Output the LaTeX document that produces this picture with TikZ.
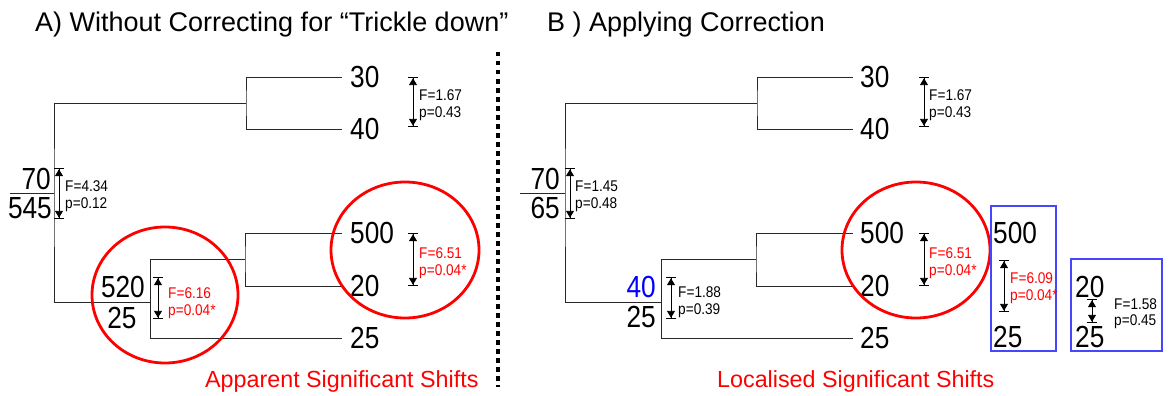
\documentclass[tikz,border=0pt]{standalone}
\usepackage{fontspec}
\setmainfont{Liberation Sans}
\newfontfamily\condfont[FakeStretch=0.86]{Liberation Sans}
\newfontfamily\smallfont[FakeStretch=0.88]{Liberation Sans}
\usetikzlibrary{arrows.meta}
\newcommand{\bignum}{\condfont\fontsize{30.5}{32}\selectfont}
\newcommand{\smalltxt}{\smallfont\fontsize{15.5}{16}\selectfont}
\definecolor{treegray}{RGB}{40,40,40}
\definecolor{boxblue}{RGB}{70,70,255}
\tikzset{
  leaf/.style={font=\bignum, inner sep=0pt, anchor=west},
  lab/.style={font=\bignum, inner sep=0pt},
  tree/.style={draw=treegray, line width=0.9pt},
  stat/.style={font=\smalltxt, inner sep=0pt, anchor=base west},
  ebar/.style={line width=0.9pt,
    {Bar[width=10pt,line width=1.2pt,sep=0pt] Triangle[width=8pt,length=7pt,sep=0pt]}-{Triangle[width=8pt,length=7pt,sep=0pt] Bar[width=10pt,line width=1.2pt,sep=0pt]}},
  ring/.style={draw=red, line width=2.8pt},
  title/.style={font=\fontsize{27}{30}\selectfont, inner sep=0pt, anchor=base west},
  note/.style={font=\fontsize{23.3}{26}\selectfont, text=red, inner sep=0pt, anchor=base west},
  bluebox/.style={draw=boxblue, line width=1.2pt},
}
\begin{document}
\begin{tikzpicture}[x=1pt,y=-1pt]
\useasboundingbox (0,0) rectangle (1170,396);

% titles
\node[title] (tA) at (35,32) {A) Without Correcting for “Trickle down”};
\node[title] (tB) at (547,32) {B ) Applying Correction};

% dotted separator
\coordinate (d1) at (498,52);
\coordinate (d2) at (498,387);
\draw[line width=4pt, dash pattern=on 4.5pt off 4.5pt] (d1) -- (d2);

% ================= Panel A =================
\node[leaf] (a30) at (350,77) {30};
\node[leaf] (a40) at (350,129) {40};
\node[leaf] (a500) at (350,233) {500};
\node[leaf] (a20) at (350,286) {20};
\node[leaf] (a25) at (350,338) {25};

\coordinate (A0) at (54,193);
\coordinate (A0l) at (10,193);
\coordinate (A1) at (246,103);
\coordinate (A2) at (150,302);
\coordinate (A3) at (245,259);

\draw[tree, shorten <=8pt, shorten >=8pt] (a30.west) -| (A1) |- (a40.west);
\draw[tree] (A1) -| (A0) |- (A2);
\draw[tree] (A0) -- (A0l);
\draw[tree] (A3) -| (A2);
\draw[tree, shorten >=8pt] (A2) |- (a25.west);
\draw[tree, shorten <=8pt, shorten >=8pt] (a500.west) -| (A3) |- (a20.west);

\node[lab, anchor=east] (a70) at (51,179) {70};
\node[lab, anchor=east] (a545) at (52,208) {545};
\node[lab, anchor=east] (a520) at (145,287) {520};
\node[lab] (a25b) at (122,318) {25};

% error bars A
\coordinate (ea1t) at (59,168); \coordinate (ea1b) at (59,219);
\draw[ebar] (ea1t) -- (ea1b);
\node[stat] (fa1) at (65,191) {F=4.34};
\node[stat] (pa1) at (65,208) {p=0.12};

\coordinate (ea2t) at (413,77); \coordinate (ea2b) at (413,127);
\draw[ebar] (ea2t) -- (ea2b);
\node[stat] (fa2) at (419,100) {F=1.67};
\node[stat] (pa2) at (419,117) {p=0.43};

\coordinate (ea3t) at (158,277); \coordinate (ea3b) at (158,319);
\draw[ebar] (ea3t) -- (ea3b);
\node[stat, text=red] (fa3) at (168,298) {F=6.16};
\node[stat, text=red] (pa3) at (168,315) {p=0.04*};

\coordinate (ea4t) at (413,233); \coordinate (ea4b) at (413,286);
\draw[ebar] (ea4t) -- (ea4b);
\node[stat, text=red] (fa4) at (419,258) {F=6.51};
\node[stat, text=red] (pa4) at (419,275) {p=0.04*};

% rings A
\coordinate (rA1) at (165,295);
\coordinate (rA2) at (405,250);
\draw[ring] (rA1) ellipse [x radius=73pt, y radius=68pt];
\draw[ring] (rA2) ellipse [x radius=74pt, y radius=68pt];

\node[note] (nA) at (205,387) {Apparent Significant Shifts};

% ================= Panel B =================
\node[leaf] (b30) at (860,77) {30};
\node[leaf] (b40) at (860,129) {40};
\node[leaf] (b500) at (860,233) {500};
\node[leaf] (b20) at (860,286) {20};
\node[leaf] (b25) at (860,338) {25};

\coordinate (B0) at (565,193);
\coordinate (B0l) at (520,193);
\coordinate (B1) at (757,103);
\coordinate (B2) at (661,302);
\coordinate (B3) at (756,259);

\draw[tree, shorten <=7.5pt, shorten >=7.5pt] (b30.west) -| (B1) |- (b40.west);
\draw[tree] (B1) -| (B0) |- (B2);
\draw[tree] (B0) -- (B0l);
\draw[tree] (B3) -| (B2);
\draw[tree, shorten >=7.5pt] (B2) |- (b25.west);
\draw[tree, shorten <=7.5pt, shorten >=7.5pt] (b500.west) -| (B3) |- (b20.west);

\node[lab, anchor=east] (b70) at (560,179) {70};
\node[lab, anchor=east] (b65) at (560,208) {65};
\node[lab, anchor=east, text=blue] (b40b) at (656,287) {40};
\node[lab, anchor=east] (b25b) at (656,317) {25};

\coordinate (eb1t) at (570,168); \coordinate (eb1b) at (570,219);
\draw[ebar] (eb1t) -- (eb1b);
\node[stat] (fb1) at (575,191) {F=1.45};
\node[stat] (pb1) at (575,208) {p=0.48};

\coordinate (eb2t) at (924,77); \coordinate (eb2b) at (924,127);
\draw[ebar] (eb2t) -- (eb2b);
\node[stat] (fb2) at (929,100) {F=1.67};
\node[stat] (pb2) at (929,117) {p=0.43};

\coordinate (eb3t) at (671,277); \coordinate (eb3b) at (671,319);
\draw[ebar] (eb3t) -- (eb3b);
\node[stat] (fb3) at (678,297) {F=1.88};
\node[stat] (pb3) at (678,314) {p=0.39};

\coordinate (eb4t) at (924,233); \coordinate (eb4b) at (924,286);
\draw[ebar] (eb4t) -- (eb4b);
\node[stat, text=red] (fb4) at (929,258) {F=6.51};
\node[stat, text=red] (pb4) at (929,275) {p=0.04*};

\coordinate (rB) at (916,250);
\draw[ring] (rB) ellipse [x radius=74pt, y radius=68pt];

% blue box 1
\coordinate (bx1a) at (991,206); \coordinate (bx1b) at (1056,351);
\draw[bluebox] (bx1a) rectangle (bx1b);
\node[leaf] (c500) at (993,233) {500};
\node[leaf] (c25) at (993,337) {25};
\coordinate (ec1t) at (1004,260); \coordinate (ec1b) at (1004,312);
\draw[ebar] (ec1t) -- (ec1b);
\node[stat, text=red] (fc1) at (1010,283) {F=6.09};
\node[stat, text=red] (pc1) at (1010,300) {p=0.04*};

% blue box 2
\coordinate (bx2a) at (1071,259); \coordinate (bx2b) at (1162,351);
\draw[bluebox] (bx2a) rectangle (bx2b);
\node[leaf] (d20) at (1075,287) {20};
\node[leaf] (d25) at (1075,337) {25};
\coordinate (ed1t) at (1092,299); \coordinate (ed1b) at (1092,323);
\draw[ebar] (ed1t) -- (ed1b);
\node[stat] (fd1) at (1114,309) {F=1.58};
\node[stat] (pd1) at (1114,325) {p=0.45};

\node[note] (nB) at (717,387) {Localised Significant Shifts};
\end{tikzpicture}
\end{document}
